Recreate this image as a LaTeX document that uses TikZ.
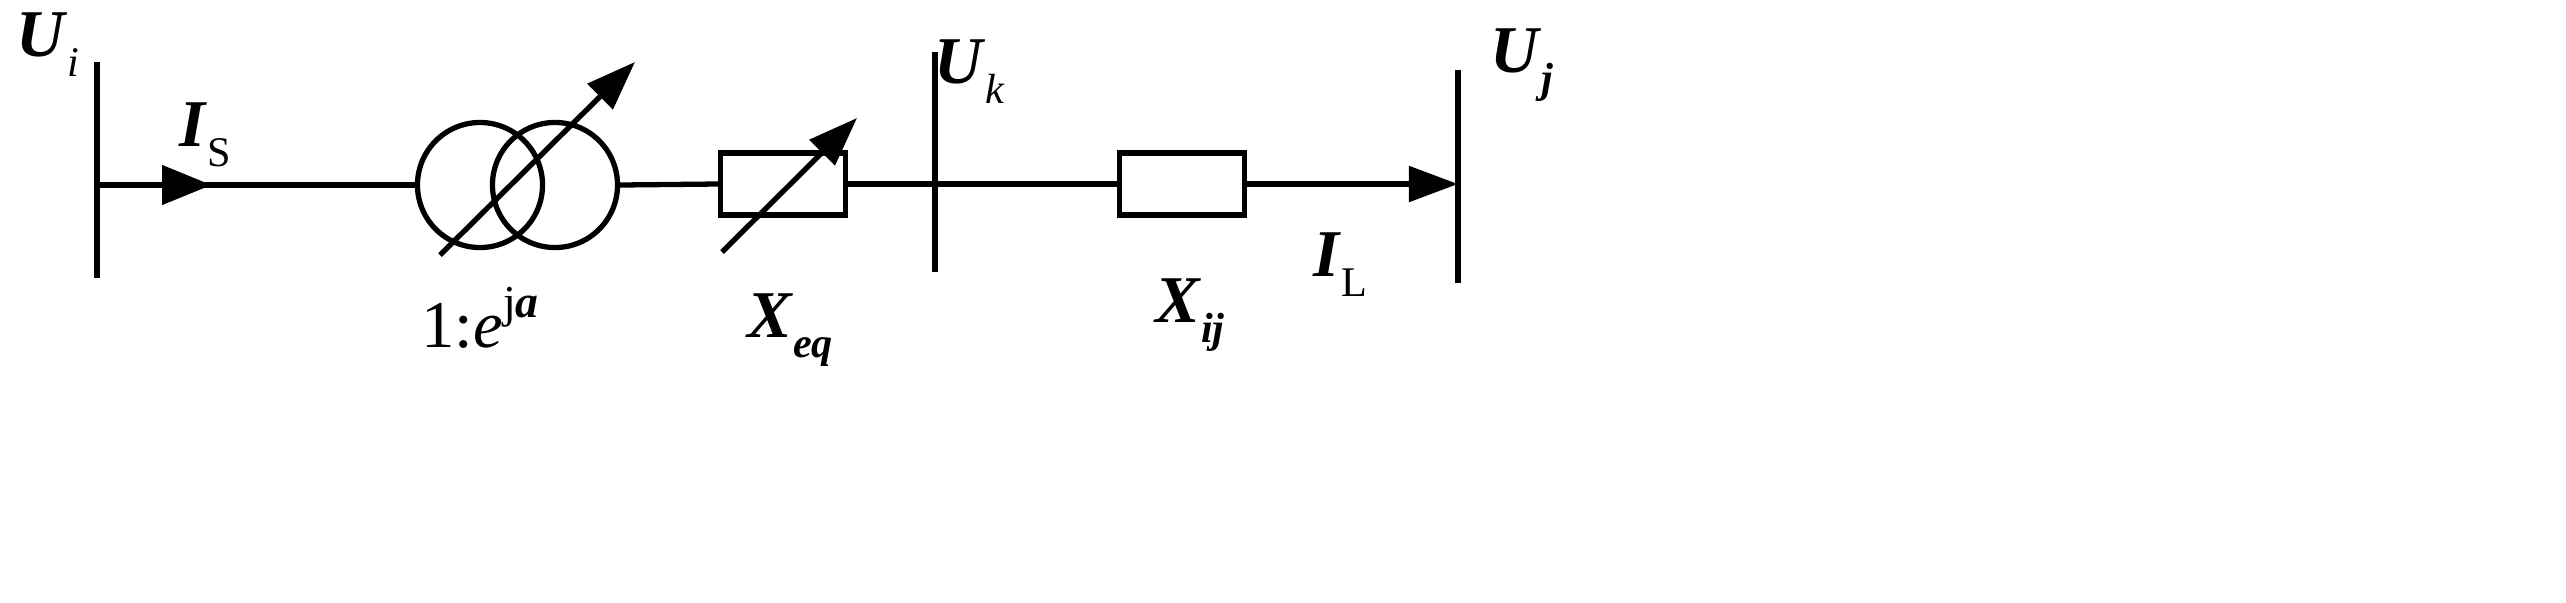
\documentclass[tikz,border=0pt]{standalone}
\usepackage{fontspec}
\setmainfont{Liberation Serif}
\usetikzlibrary{arrows.meta,decorations.markings}
\newcommand{\BI}[1]{\textbf{\textit{#1}}}
\newcommand{\IT}[1]{\textit{#1}}
\newcommand{\SB}[1]{\raisebox{-0.3em}{\fontsize{12}{14}\selectfont #1}}
\begin{document}
\begin{tikzpicture}[x=0.01cm,y=-0.01cm,line width=1.5pt,
  lbl/.style={inner sep=0pt,font=\fontsize{19}{22}\selectfont},
  mid/.style={postaction={decorate},decoration={markings,mark=at position #1 with {\arrow{Triangle[length=14pt,width=11pt]}}}},
  tip/.style={-{Triangle[length=14pt,width=10pt]}}]
\useasboundingbox (0,0) rectangle (2566,602);
\coordinate (bi1) at (97,62); \coordinate (bi2) at (97,278);
\coordinate (bk1) at (935,52); \coordinate (bk2) at (935,272);
\coordinate (bj1) at (1458,70); \coordinate (bj2) at (1458,283);
\draw (bi1)--(bi2); \draw (bk1)--(bk2); \draw (bj1)--(bj2);
\coordinate (a) at (97,185);
\node[circle,draw,minimum size=1.25cm,inner sep=0pt] (c1) at (480,185) {};
\node[circle,draw,minimum size=1.25cm,inner sep=0pt] (c2) at (555,185) {};
\node[draw,minimum width=1.25cm,minimum height=0.62cm,inner sep=0pt] (xeq) at (783,184) {};
\node[draw,minimum width=1.25cm,minimum height=0.62cm,inner sep=0pt] (xij) at (1182,184) {};
\coordinate (k) at (935,184); \coordinate (j) at (1458,184);
\draw[mid=0.36] (a) -- (c1.west);
\draw (c2.east) -- (xeq.west);
\draw (xeq.east) -- (k) -- (xij.west);
\draw[tip] (xij.east) -- (j);
\coordinate (t1) at (440,255); \coordinate (t2) at (635,62);
\draw[tip] (t1)--(t2);
\coordinate (r1) at (722,252); \coordinate (r2) at (857,118);
\draw[tip] (r1)--(r2);
\node[lbl] (ui) at (48,45) {\BI{U}\SB{\IT{i}}};
\node[lbl] (is) at (205,135) {\BI{I}\SB{S}};
\node[lbl] (tr) at (480,318) {1:\IT{e}\raisebox{0.45em}{\fontsize{13}{15}\selectfont j\BI{a}}};
\node[lbl] (xe) at (790,330) {\BI{X}\SB{\BI{eq}}};
\node[lbl] (uk) at (970,72) {\BI{U}\SB{\IT{k}}};
\node[lbl] (xi) at (1190,315) {\BI{X}\SB{\BI{ij}}};
\node[lbl] (il) at (1340,265) {\BI{I}\SB{L}};
\node[lbl] (uj) at (1522,65) {\BI{U}\SB{\BI{j}}};
\end{tikzpicture}
\end{document}
